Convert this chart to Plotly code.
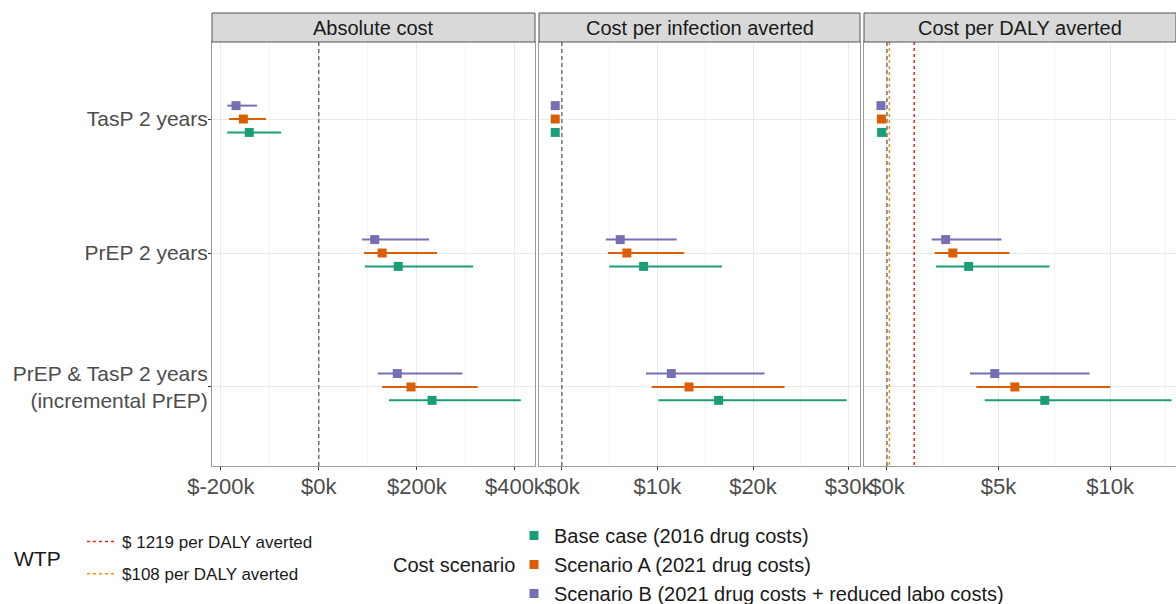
import plotly.graph_objects as go

# ---------------- data ----------------
categories = ["TasP 2 years", "PrEP 2 years", "PrEP & TasP 2 years<br>(incremental PrEP)"]
scenarios = ["Base case (2016 drug costs)", "Scenario A (2021 drug costs)",
             "Scenario B (2021 drug costs + reduced labo costs)"]
colors = ["#1B9E77", "#D95F02", "#7570B3"]
offsets = [0.1, 0.0, -0.1]
panels = ["Absolute cost", "Cost per infection averted", "Cost per DALY averted"]

# Absolute cost (point, low, high) per scenario; order of categories as above
abs_base = [(-142000, -187000, -77000), (162000, 94000, 315000), (231000, 143000, 412000)]
abs_a    = [(-154000, -183000, -108000), (129000, 92000, 241000), (188000, 129000, 324000)]
abs_b    = [(-169000, -187000, -126000), (114000, 88000, 225000), (160000, 120000, 293000)]

# Cost per infection averted
inf_base = [(-700, -800, -600), (8550, 4950, 16750), (16400, 10100, 29800)]
inf_a    = [(-700, -800, -600), (6800, 4800, 12800), (13300, 9400, 23300)]
inf_b    = [(-700, -800, -600), (6100, 4600, 12000), (11450, 8800, 21200)]

# Cost per DALY averted
daly_base = [(-240, -270, -210), (3660, 2190, 7280), (7070, 4375, 12750)]
daly_a    = [(-250, -280, -220), (2950, 2140, 5490), (5730, 4000, 10010)]
daly_b    = [(-270, -300, -240), (2630, 2000, 5130), (4830, 3720, 9080)]

wtp_values = [1219, 108]
wtp_labels = ["$ 1219 per DALY averted", "$108 per DALY averted"]
wtp_colors = ["#FF1A1A", "#FF8C0A"]

x_ranges = [[-218000, 441000], [-2400, 31200], [-1030, 12950]]
x_major = [[-200000, 0, 200000, 400000], [0, 10000, 20000, 30000], [0, 5000, 10000]]
x_major_text = [["$-200k", "$0k", "$200k", "$400k"], ["$0k", "$10k", "$20k", "$30k"], ["$0k", "$5k", "$10k"]]
x_minor = [[-100000, 100000, 300000], [5000, 15000, 25000], [2500, 7500, 12500]]

panel_data = [[abs_base, abs_a, abs_b], [inf_base, inf_a, inf_b], [daly_base, daly_a, daly_b]]

# ---------------- layout geometry ----------------
W, H = 1176, 604
ML, MR, MT, MB = 212, 0, 13, 138
PW, PH = W - ML - MR, H - MT - MB
def px_x(p): return (p - ML) / PW
def px_y(p): return (H - MB - p) / PH
def cx(p): return p / W
def cy(p): return 1 - p / H

domains = [[px_x(212), px_x(535)], [px_x(539), px_x(860)], [px_x(864), 1.0]]
strip_bottom = px_y(42)
y_range = [3.59, 0.425]

FONT = "Liberation Sans, Arial"

fig = go.Figure()

# WTP lines (panel 3)
for v, lab, c in zip(wtp_values, wtp_labels, wtp_colors):
    fig.add_trace(go.Scatter(
        x=[v, v], y=[y_range[1], y_range[0]], mode="lines",
        line=dict(color=c, width=1.5, dash="3px,3px"),
        name=lab, legend="legend", legendgroup=lab,
        xaxis="x3", yaxis="y3", hoverinfo="skip"))

ycat = [1, 2, 3]
for pi in range(3):
    xa = "x" if pi == 0 else f"x{pi+1}"
    ya = "y" if pi == 0 else f"y{pi+1}"
    for si in range(3):
        d = panel_data[pi][si]
        pts = [t[0] for t in d]
        lo = [t[0] - t[1] for t in d]
        hi = [t[2] - t[0] for t in d]
        ys = [c + offsets[si] for c in ycat]
        fig.add_trace(go.Scatter(
            x=pts, y=ys, mode="markers",
            marker=dict(symbol="square", size=9, color=colors[si]),
            error_x=dict(type="data", array=hi, arrayminus=lo, color=colors[si],
                         thickness=2, width=0),
            name=scenarios[si], legend="legend2", legendgroup=scenarios[si],
            showlegend=(pi == 0), xaxis=xa, yaxis=ya))

layout = dict(
    width=W, height=H,
    margin=dict(l=ML, r=MR, t=MT, b=MB, autoexpand=False),
    paper_bgcolor="white", plot_bgcolor="white",
    font=dict(family=FONT, size=17, color="#1a1a1a"),
    showlegend=True,
    legend=dict(xref="container", yref="container", x=cx(82), y=cy(524),
                xanchor="left", yanchor="top",
                font=dict(size=17, family=FONT, color="#1a1a1a"),
                tracegroupgap=7, itemwidth=30, bgcolor="rgba(0,0,0,0)"),
    legend2=dict(xref="container", yref="container", x=cx(514), y=cy(516),
                 xanchor="left", yanchor="top",
                 font=dict(size=20, family=FONT, color="#1a1a1a"),
                 tracegroupgap=0, itemwidth=30, bgcolor="rgba(0,0,0,0)"),
)

for pi in range(3):
    key = "xaxis" if pi == 0 else f"xaxis{pi+1}"
    ykey = "yaxis" if pi == 0 else f"yaxis{pi+1}"
    layout[key] = dict(
        domain=domains[pi], range=x_ranges[pi], anchor="y" if pi == 0 else f"y{pi+1}",
        tickmode="array", tickvals=x_major[pi], ticktext=x_major_text[pi],
        showgrid=True, gridcolor="#EBEBEB", gridwidth=1,
        minor=dict(tickvals=x_minor[pi], showgrid=True, gridcolor="#F4F4F4", gridwidth=1, ticks=""),
        ticks="outside", ticklen=3, tickcolor="#333333", ticklabelstandoff=-2,
        tickfont=dict(size=22, color="#4D4D4D", family=FONT),
        showline=True, mirror=True, linecolor="#9A9A9A", linewidth=1,
        zeroline=False, fixedrange=True, automargin=False)
    layout[ykey] = dict(
        domain=[0, strip_bottom], range=y_range, anchor="x" if pi == 0 else f"x{pi+1}",
        tickmode="array", tickvals=ycat, ticktext=categories if pi == 0 else [""] * 3,
        showticklabels=(pi == 0),
        showgrid=True, gridcolor="#EBEBEB", gridwidth=1,
        ticks="outside" if pi == 0 else "", ticklen=3, tickcolor="#333333",
        ticklabelstandoff=-4 if pi == 0 else 0,
        tickfont=dict(size=21, color="#4D4D4D", family=FONT),
        showline=True, mirror=True, linecolor="#9A9A9A", linewidth=1,
        zeroline=False, fixedrange=True, automargin=False)

fig.update_layout(**layout)

shapes = []
annotations = []
for pi in range(3):
    xa = "x" if pi == 0 else f"x{pi+1}"
    ya = "y" if pi == 0 else f"y{pi+1}"
    # zero dashed line
    shapes.append(dict(type="line", xref=xa, yref=f"{ya} domain", x0=0, x1=0, y0=0, y1=1,
                       line=dict(color="#333333", width=1, dash="4px,3px"), layer="above"))
    # strip
    shapes.append(dict(type="rect", xref="paper", yref="paper",
                       x0=domains[pi][0], x1=domains[pi][1], y0=strip_bottom, y1=1.0,
                       fillcolor="#D9D9D9", line=dict(color="#555555", width=1)))
    annotations.append(dict(xref="paper", yref="paper",
                            x=(domains[pi][0] + domains[pi][1]) / 2, y=(strip_bottom + 1.0) / 2,
                            text=panels[pi], showarrow=False, xanchor="center", yanchor="middle",
                            font=dict(size=20, color="#1a1a1a", family=FONT)))

annotations.append(dict(xref="paper", yref="paper", x=px_x(12), y=px_y(558), text="WTP",
                        showarrow=False, xanchor="left", yanchor="middle",
                        font=dict(size=21, color="#1a1a1a", family=FONT)))
annotations.append(dict(xref="paper", yref="paper", x=px_x(517), y=px_y(565), text="Cost scenario",
                        showarrow=False, xanchor="right", yanchor="middle",
                        font=dict(size=20, color="#1a1a1a", family=FONT)))

fig.update_layout(shapes=shapes, annotations=annotations)
fig.write_html("out.html", config={"displayModeBar": False},
               post_script="document.body.style.margin='0';document.body.style.overflow='hidden';")
